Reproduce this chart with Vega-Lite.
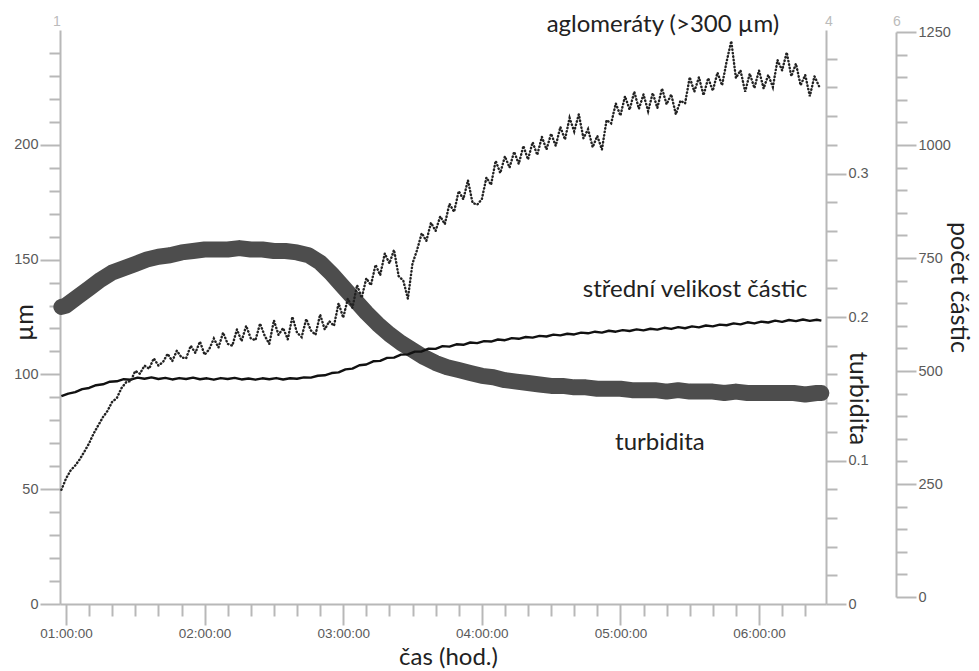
{
  "$schema": "https://vega.github.io/schema/vega-lite/v6.json",
  "width": 766,
  "height": 574,
  "autosize": "none",
  "padding": {"left": 60, "top": 30, "right": 153, "bottom": 67},
  "background": "white",
  "config": {
    "view": {"stroke": null},
    "axis": {"grid": false, "domainColor": "#b8b8b8", "domainWidth": 2, "tickColor": "#b8b8b8", "tickWidth": 2, "labelFont": "Liberation Sans", "labelFontSize": 14.5, "labelColor": "#5a5a5a", "titleFont": "Lato", "titleFontSize": 25, "titleFontWeight": "normal", "titleColor": "#222222"}
  },
  "datasets": {
    "turb": [
      {"min": 58, "t": 0.207}, {"min": 60, "t": 0.208}, {"min": 65, "t": 0.214}, {"min": 70, "t": 0.220}, {"min": 75, "t": 0.226}, {"min": 80, "t": 0.231}, {"min": 85, "t": 0.234}, {"min": 90, "t": 0.237}, {"min": 95, "t": 0.240}, {"min": 100, "t": 0.242}, {"min": 105, "t": 0.243}, {"min": 110, "t": 0.245}, {"min": 115, "t": 0.246}, {"min": 120, "t": 0.247}, {"min": 125, "t": 0.247}, {"min": 130, "t": 0.247}, {"min": 135, "t": 0.248}, {"min": 140, "t": 0.247}, {"min": 145, "t": 0.247}, {"min": 150, "t": 0.246}, {"min": 155, "t": 0.246}, {"min": 160, "t": 0.245}, {"min": 165, "t": 0.243}, {"min": 170, "t": 0.238}, {"min": 175, "t": 0.230}, {"min": 180, "t": 0.221}, {"min": 185, "t": 0.212}, {"min": 190, "t": 0.203}, {"min": 195, "t": 0.195}, {"min": 200, "t": 0.188}, {"min": 205, "t": 0.182}, {"min": 210, "t": 0.177}, {"min": 215, "t": 0.172}, {"min": 220, "t": 0.168}, {"min": 225, "t": 0.165}, {"min": 230, "t": 0.163}, {"min": 235, "t": 0.161}, {"min": 240, "t": 0.159}, {"min": 245, "t": 0.158}, {"min": 250, "t": 0.156}, {"min": 255, "t": 0.155}, {"min": 260, "t": 0.154}, {"min": 265, "t": 0.153}, {"min": 270, "t": 0.152}, {"min": 275, "t": 0.152}, {"min": 280, "t": 0.151}, {"min": 285, "t": 0.151}, {"min": 290, "t": 0.150}, {"min": 295, "t": 0.150}, {"min": 300, "t": 0.150}, {"min": 305, "t": 0.149}, {"min": 310, "t": 0.149}, {"min": 315, "t": 0.149}, {"min": 320, "t": 0.148}, {"min": 325, "t": 0.149}, {"min": 330, "t": 0.148}, {"min": 335, "t": 0.148}, {"min": 340, "t": 0.148}, {"min": 345, "t": 0.147}, {"min": 350, "t": 0.148}, {"min": 355, "t": 0.147}, {"min": 360, "t": 0.147}, {"min": 365, "t": 0.147}, {"min": 370, "t": 0.147}, {"min": 375, "t": 0.147}, {"min": 380, "t": 0.146}, {"min": 385, "t": 0.147}, {"min": 387, "t": 0.147}
    ],
    "mean": [
      {"min": 58, "um": 90.5}, {"min": 61, "um": 91.6}, {"min": 64, "um": 92.3}, {"min": 67, "um": 93.6}, {"min": 70, "um": 94.1}, {"min": 73, "um": 95.3}, {"min": 76, "um": 95.7}, {"min": 79, "um": 96.8}, {"min": 82, "um": 97.0}, {"min": 85, "um": 97.9}, {"min": 88, "um": 97.7}, {"min": 91, "um": 98.6}, {"min": 94, "um": 98.1}, {"min": 97, "um": 98.7}, {"min": 100, "um": 98.0}, {"min": 103, "um": 98.5}, {"min": 106, "um": 97.8}, {"min": 109, "um": 98.4}, {"min": 112, "um": 98.0}, {"min": 115, "um": 98.6}, {"min": 118, "um": 97.9}, {"min": 121, "um": 98.3}, {"min": 124, "um": 97.7}, {"min": 127, "um": 98.4}, {"min": 130, "um": 98.0}, {"min": 133, "um": 98.5}, {"min": 136, "um": 97.8}, {"min": 139, "um": 98.2}, {"min": 142, "um": 97.7}, {"min": 145, "um": 98.3}, {"min": 148, "um": 97.9}, {"min": 151, "um": 98.4}, {"min": 154, "um": 97.8}, {"min": 157, "um": 98.3}, {"min": 160, "um": 98.1}, {"min": 163, "um": 98.7}, {"min": 166, "um": 98.6}, {"min": 169, "um": 99.4}, {"min": 172, "um": 99.6}, {"min": 175, "um": 100.6}, {"min": 178, "um": 100.9}, {"min": 181, "um": 102.2}, {"min": 184, "um": 102.5}, {"min": 187, "um": 104.0}, {"min": 190, "um": 104.3}, {"min": 193, "um": 105.7}, {"min": 196, "um": 105.9}, {"min": 199, "um": 107.2}, {"min": 202, "um": 107.3}, {"min": 205, "um": 108.6}, {"min": 208, "um": 108.7}, {"min": 211, "um": 109.9}, {"min": 214, "um": 110.0}, {"min": 217, "um": 111.2}, {"min": 220, "um": 111.1}, {"min": 223, "um": 112.3}, {"min": 226, "um": 112.1}, {"min": 229, "um": 113.1}, {"min": 232, "um": 112.9}, {"min": 235, "um": 113.9}, {"min": 238, "um": 113.6}, {"min": 241, "um": 114.5}, {"min": 244, "um": 114.3}, {"min": 247, "um": 115.2}, {"min": 250, "um": 114.9}, {"min": 253, "um": 115.8}, {"min": 256, "um": 115.5}, {"min": 259, "um": 116.3}, {"min": 262, "um": 116.0}, {"min": 265, "um": 116.8}, {"min": 268, "um": 116.5}, {"min": 271, "um": 117.3}, {"min": 274, "um": 117.0}, {"min": 277, "um": 117.7}, {"min": 280, "um": 117.4}, {"min": 283, "um": 118.2}, {"min": 286, "um": 117.9}, {"min": 289, "um": 118.6}, {"min": 292, "um": 118.2}, {"min": 295, "um": 119.0}, {"min": 298, "um": 118.6}, {"min": 301, "um": 119.3}, {"min": 304, "um": 118.9}, {"min": 307, "um": 119.6}, {"min": 310, "um": 119.2}, {"min": 313, "um": 119.9}, {"min": 316, "um": 119.5}, {"min": 319, "um": 120.3}, {"min": 322, "um": 119.8}, {"min": 325, "um": 120.6}, {"min": 328, "um": 120.1}, {"min": 331, "um": 120.9}, {"min": 334, "um": 120.5}, {"min": 337, "um": 121.3}, {"min": 340, "um": 120.9}, {"min": 343, "um": 121.7}, {"min": 346, "um": 121.4}, {"min": 349, "um": 122.2}, {"min": 352, "um": 121.8}, {"min": 355, "um": 122.7}, {"min": 358, "um": 122.2}, {"min": 361, "um": 123.0}, {"min": 364, "um": 122.6}, {"min": 367, "um": 123.4}, {"min": 370, "um": 122.9}, {"min": 373, "um": 123.7}, {"min": 376, "um": 123.2}, {"min": 379, "um": 123.9}, {"min": 382, "um": 123.3}, {"min": 385, "um": 123.8}, {"min": 387, "um": 123.4}
    ],
    "agl": [
      {"min": 58, "n": 237}, {"min": 60, "n": 262}, {"min": 62, "n": 280}, {"min": 64, "n": 291}, {"min": 66, "n": 305}, {"min": 68, "n": 322}, {"min": 70, "n": 340}, {"min": 72, "n": 362}, {"min": 74, "n": 380}, {"min": 76, "n": 398}, {"min": 78, "n": 412}, {"min": 80, "n": 432}, {"min": 82, "n": 440}, {"min": 84, "n": 462}, {"min": 86, "n": 475}, {"min": 88, "n": 478}, {"min": 90, "n": 500}, {"min": 92, "n": 494}, {"min": 94, "n": 512}, {"min": 96, "n": 505}, {"min": 98, "n": 528}, {"min": 100, "n": 512}, {"min": 102, "n": 520}, {"min": 104, "n": 538}, {"min": 106, "n": 522}, {"min": 108, "n": 545}, {"min": 110, "n": 530}, {"min": 112, "n": 528}, {"min": 114, "n": 556}, {"min": 116, "n": 540}, {"min": 118, "n": 565}, {"min": 120, "n": 536}, {"min": 122, "n": 548}, {"min": 124, "n": 572}, {"min": 126, "n": 552}, {"min": 128, "n": 585}, {"min": 130, "n": 560}, {"min": 132, "n": 556}, {"min": 134, "n": 592}, {"min": 136, "n": 566}, {"min": 138, "n": 600}, {"min": 140, "n": 572}, {"min": 142, "n": 568}, {"min": 144, "n": 605}, {"min": 146, "n": 578}, {"min": 148, "n": 560}, {"min": 150, "n": 612}, {"min": 152, "n": 580}, {"min": 154, "n": 595}, {"min": 156, "n": 570}, {"min": 158, "n": 620}, {"min": 160, "n": 585}, {"min": 162, "n": 575}, {"min": 164, "n": 615}, {"min": 166, "n": 590}, {"min": 168, "n": 580}, {"min": 170, "n": 625}, {"min": 172, "n": 592}, {"min": 174, "n": 610}, {"min": 176, "n": 600}, {"min": 178, "n": 650}, {"min": 180, "n": 618}, {"min": 182, "n": 660}, {"min": 184, "n": 640}, {"min": 186, "n": 690}, {"min": 188, "n": 662}, {"min": 190, "n": 705}, {"min": 192, "n": 690}, {"min": 194, "n": 735}, {"min": 196, "n": 712}, {"min": 198, "n": 760}, {"min": 200, "n": 738}, {"min": 202, "n": 768}, {"min": 204, "n": 710}, {"min": 206, "n": 700}, {"min": 208, "n": 660}, {"min": 210, "n": 738}, {"min": 212, "n": 768}, {"min": 214, "n": 805}, {"min": 216, "n": 788}, {"min": 218, "n": 828}, {"min": 220, "n": 810}, {"min": 222, "n": 842}, {"min": 224, "n": 825}, {"min": 226, "n": 870}, {"min": 228, "n": 852}, {"min": 230, "n": 898}, {"min": 232, "n": 880}, {"min": 234, "n": 922}, {"min": 236, "n": 872}, {"min": 238, "n": 868}, {"min": 240, "n": 880}, {"min": 242, "n": 928}, {"min": 244, "n": 912}, {"min": 246, "n": 965}, {"min": 248, "n": 938}, {"min": 250, "n": 975}, {"min": 252, "n": 950}, {"min": 254, "n": 985}, {"min": 256, "n": 958}, {"min": 258, "n": 998}, {"min": 260, "n": 968}, {"min": 262, "n": 1006}, {"min": 264, "n": 978}, {"min": 266, "n": 1018}, {"min": 268, "n": 990}, {"min": 270, "n": 1025}, {"min": 272, "n": 998}, {"min": 274, "n": 1040}, {"min": 276, "n": 1012}, {"min": 278, "n": 1060}, {"min": 280, "n": 1030}, {"min": 282, "n": 1068}, {"min": 284, "n": 1015}, {"min": 286, "n": 1035}, {"min": 288, "n": 995}, {"min": 290, "n": 1020}, {"min": 292, "n": 990}, {"min": 294, "n": 1055}, {"min": 296, "n": 1048}, {"min": 298, "n": 1092}, {"min": 300, "n": 1065}, {"min": 302, "n": 1108}, {"min": 304, "n": 1078}, {"min": 306, "n": 1118}, {"min": 308, "n": 1080}, {"min": 310, "n": 1112}, {"min": 312, "n": 1075}, {"min": 314, "n": 1115}, {"min": 316, "n": 1082}, {"min": 318, "n": 1125}, {"min": 320, "n": 1090}, {"min": 322, "n": 1112}, {"min": 324, "n": 1068}, {"min": 326, "n": 1098}, {"min": 328, "n": 1092}, {"min": 330, "n": 1150}, {"min": 332, "n": 1118}, {"min": 334, "n": 1150}, {"min": 336, "n": 1110}, {"min": 338, "n": 1148}, {"min": 340, "n": 1120}, {"min": 342, "n": 1160}, {"min": 344, "n": 1132}, {"min": 346, "n": 1185}, {"min": 348, "n": 1230}, {"min": 350, "n": 1148}, {"min": 352, "n": 1165}, {"min": 354, "n": 1118}, {"min": 356, "n": 1158}, {"min": 358, "n": 1126}, {"min": 360, "n": 1165}, {"min": 362, "n": 1125}, {"min": 364, "n": 1155}, {"min": 366, "n": 1128}, {"min": 368, "n": 1188}, {"min": 370, "n": 1165}, {"min": 372, "n": 1205}, {"min": 374, "n": 1152}, {"min": 376, "n": 1180}, {"min": 378, "n": 1132}, {"min": 380, "n": 1155}, {"min": 382, "n": 1108}, {"min": 384, "n": 1152}, {"min": 386, "n": 1130}
    ],
    "ann": [
      {"min": 318.4, "um": 249, "text": "aglomeráty (>300 µm)"},
      {"min": 332.3, "um": 133.7, "text": "střední velikost částic"},
      {"min": 317.1, "um": 67, "text": "turbidita"}
    ],
    "corner": [
      {"min": 56.1, "um": 251.7, "text": "1"},
      {"min": 390.3, "um": 251.7, "text": "4"},
      {"min": 419.7, "um": 251.7, "text": "6"}
    ]
  },
  "encoding": {
    "x": {
      "field": "min",
      "type": "quantitative",
      "scale": {"domain": [57.4, 389], "nice": false, "zero": false},
      "axis": {
        "title": "čas (hod.)",
        "values": [60, 70, 80, 90, 100, 110, 120, 130, 140, 150, 160, 170, 180, 190, 200, 210, 220, 230, 240, 250, 260, 270, 280, 290, 300, 310, 320, 330, 340, 350, 360, 370, 380],
        "labelExpr": "datum.value % 60 === 0 ? '0' + (datum.value / 60) + ':00:00' : ''",
        "tickSize": {"condition": {"test": "datum.value % 60 === 0", "value": 21}, "value": 12},
        "labelPadding": 1,
        "labelFontSize": 13.5,
        "labelFlush": false,
        "labelOverlap": false,
        "titleFontSize": 24,
        "titleX": 388,
        "titleY": 60,
        "titleAlign": "center",
        "titleBaseline": "alphabetic"
      }
    }
  },
  "layer": [
    {
      "data": {"name": "turb"},
      "mark": {"type": "line", "color": "#4d4d4d", "strokeWidth": 16, "strokeCap": "round", "strokeJoin": "round"},
      "encoding": {
        "y": {
          "field": "t",
          "type": "quantitative",
          "scale": {"domain": [0, 0.4], "nice": false, "zero": true},
          "axis": {
            "orient": "right",
            "title": "turbidita",
            "values": [0, 0.02, 0.04, 0.06, 0.08, 0.1, 0.12, 0.14, 0.16, 0.18, 0.2, 0.22, 0.24, 0.26, 0.28, 0.3, 0.32, 0.34, 0.36, 0.38],
            "labelExpr": "round(datum.value * 100) % 10 === 0 ? (datum.value === 0 ? '0' : format(datum.value, '.1f')) : ''",
            "tickSize": {"condition": {"test": "round(datum.value * 100) % 10 === 0", "value": 20}, "value": 11},
            "labelPadding": 2,
            "labelFlush": false,
            "labelOverlap": false,
            "titleAngle": 90,
            "titleX": 31,
            "titleY": 368,
            "titleAlign": "center",
            "titleBaseline": "middle"
          }
        }
      }
    },
    {
      "data": {"name": "mean"},
      "mark": {"type": "line", "color": "#111111", "strokeWidth": 2.4, "strokeJoin": "round"},
      "encoding": {
        "y": {
          "field": "um",
          "type": "quantitative",
          "scale": {"domain": [0, 250], "nice": false, "zero": true},
          "axis": {
            "orient": "left",
            "title": "µm",
            "values": [0, 10, 20, 30, 40, 50, 60, 70, 80, 90, 100, 110, 120, 130, 140, 150, 160, 170, 180, 190, 200, 210, 220, 230, 240],
            "labelExpr": "datum.value % 50 === 0 ? '' + datum.value : ''",
            "tickSize": {"condition": {"test": "datum.value % 50 === 0", "value": 20}, "value": 11},
            "labelPadding": 2,
            "labelFlush": false,
            "labelOverlap": false,
            "titleAngle": -90,
            "titleX": -36,
            "titleY": 292,
            "titleAlign": "center",
            "titleBaseline": "middle"
          }
        }
      }
    },
    {
      "data": {"name": "agl"},
      "mark": {"type": "line", "color": "#222222", "strokeWidth": 2.4, "strokeDash": [0.5, 3], "strokeCap": "round"},
      "encoding": {
        "y": {
          "field": "n",
          "type": "quantitative",
          "scale": {"domain": [0, 1250], "nice": false, "zero": true, "range": [567, 2]},
          "axis": {
            "orient": "right",
            "offset": 70,
            "title": "počet částic",
            "values": [0, 50, 100, 150, 200, 250, 300, 350, 400, 450, 500, 550, 600, 650, 700, 750, 800, 850, 900, 950, 1000, 1050, 1100, 1150, 1200, 1250],
            "labelExpr": "datum.value % 250 === 0 ? '' + datum.value : ''",
            "tickSize": {"condition": {"test": "datum.value % 250 === 0", "value": 20}, "value": 11},
            "labelPadding": 2,
            "labelFlush": false,
            "labelOverlap": false,
            "titleAngle": 90,
            "titleX": 62,
            "titleY": 257,
            "titleAlign": "center",
            "titleBaseline": "middle"
          }
        }
      }
    },
    {
      "data": {"name": "ann"},
      "mark": {"type": "text", "font": "Lato", "fontSize": 24, "color": "#222222", "align": "center", "baseline": "alphabetic"},
      "encoding": {
        "y": {"field": "um", "type": "quantitative", "scale": {"domain": [0, 250], "nice": false, "zero": true}, "axis": null},
        "text": {"field": "text"}
      }
    },
    {
      "data": {"name": "corner"},
      "mark": {"type": "text", "font": "Liberation Sans", "fontSize": 14, "color": "#bbbbbb", "align": "center", "baseline": "alphabetic"},
      "encoding": {
        "y": {"field": "um", "type": "quantitative", "scale": {"domain": [0, 250], "nice": false, "zero": true}, "axis": null},
        "text": {"field": "text"}
      }
    }
  ],
  "resolve": {"scale": {"y": "independent"}}
}
